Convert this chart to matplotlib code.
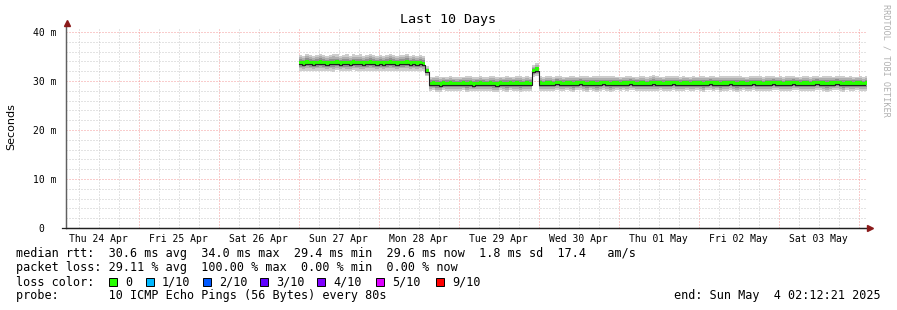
import numpy as np
import matplotlib
matplotlib.use("Agg")
import matplotlib.pyplot as plt
from matplotlib.patches import Rectangle
from matplotlib.lines import Line2D

# hours counted from Sun 27 Apr 00:00, one sample per hour
median_ms = [
    # Sun 27
    33.7, 33.6, 33.8, 33.7, 33.6, 33.7, 33.8, 33.7, 33.6, 33.7, 33.7, 33.8,
    33.6, 33.7, 33.7, 33.6, 33.8, 33.7, 33.7, 33.6, 33.7, 33.8, 33.7, 33.6,
    # Mon 28
    33.7, 33.6, 33.7, 33.8, 33.7, 33.6, 33.7, 33.7, 33.8, 33.6, 33.7, 33.6,
    33.7, 33.5, 32.0, 29.4, 29.5, 29.4, 29.3, 29.5, 29.4, 29.5, 29.4, 29.4,
    # Tue 29
    29.4, 29.5, 29.4, 29.5, 29.3, 29.4, 29.5, 29.4, 29.4, 29.5, 29.4, 29.3,
    29.5, 29.4, 29.4, 29.5, 29.4, 29.5, 29.4, 29.4, 29.5, 29.4, 32.0, 32.3,
    # Wed 30
    29.5, 29.4, 29.5, 29.5, 29.4, 29.6, 29.5, 29.4, 29.5, 29.5, 29.4, 29.5,
    29.6, 29.5, 29.4, 29.5, 29.5, 29.4, 29.5, 29.6, 29.5, 29.4, 29.5, 29.5,
    # Thu 01
    29.4, 29.5, 29.5, 29.6, 29.5, 29.4, 29.5, 29.5, 29.4, 29.5, 29.6, 29.5,
    29.5, 29.4, 29.5, 29.5, 29.6, 29.5, 29.4, 29.5, 29.5, 29.4, 29.5, 29.5,
    # Fri 02
    29.5, 29.4, 29.5, 29.6, 29.5, 29.5, 29.4, 29.5, 29.5, 29.6, 29.5, 29.4,
    29.5, 29.5, 29.4, 29.5, 29.6, 29.5, 29.5, 29.4, 29.5, 29.5, 29.6, 29.5,
    # Sat 03
    29.5, 29.4, 29.5, 29.5, 29.6, 29.5, 29.4, 29.5, 29.5, 29.4, 29.5, 29.6,
    29.5, 29.5, 29.4, 29.5, 29.5, 29.6, 29.5, 29.4, 29.5, 29.5, 29.4, 29.5,
    # Sun 04
    29.5, 29.4, 29.5,
]
# half width of the smoke (spread of the 10 pings) per hour
spread_ms = [
    1.6, 1.5, 1.7, 1.6, 1.5, 1.6, 1.7, 1.6, 1.5, 1.6, 1.8, 1.6,
    1.5, 1.6, 1.7, 1.5, 1.6, 1.6, 1.7, 1.5, 1.6, 1.7, 1.6, 1.5,
    1.6, 1.5, 1.6, 1.7, 1.6, 1.5, 1.6, 1.6, 1.7, 1.5, 1.6, 1.5,
    1.6, 1.5, 1.0, 1.5, 1.4, 1.6, 1.5, 1.4, 1.5, 1.6, 1.5, 1.4,
    1.5, 1.4, 1.6, 1.5, 1.4, 1.5, 1.6, 1.5, 1.4, 1.5, 1.7, 1.5,
    1.4, 1.5, 1.6, 1.4, 1.5, 1.5, 1.6, 1.4, 1.5, 1.5, 1.2, 1.3,
    1.5, 1.4, 1.6, 1.5, 1.4, 1.5, 1.6, 1.5, 1.4, 1.5, 1.6, 1.4,
    1.5, 1.5, 1.6, 1.4, 1.5, 1.7, 1.5, 1.4, 1.5, 1.6, 1.5, 1.4,
    1.5, 1.4, 1.6, 1.5, 1.4, 1.5, 1.5, 1.6, 1.4, 1.5, 1.6, 1.5,
    1.4, 1.5, 1.6, 1.5, 1.4, 1.5, 1.5, 1.6, 1.4, 1.5, 1.5, 1.4,
    1.5, 1.6, 1.4, 1.5, 1.5, 1.4, 1.6, 1.5, 1.5, 1.4, 1.5, 1.6,
    1.5, 1.4, 1.5, 1.6, 1.4, 1.5, 1.5, 1.4, 1.6, 1.5, 1.5, 1.4,
    1.5, 1.4, 1.5, 1.6, 1.5, 1.4, 1.5, 1.5, 1.6, 1.4, 1.5, 1.5,
    1.4, 1.5, 1.6, 1.5, 1.4, 1.5, 1.5, 1.6, 1.4, 1.5, 1.5, 1.4,
    1.5, 1.4, 1.5,
]
day_labels = ["Thu 24 Apr", "Fri 25 Apr", "Sat 26 Apr", "Sun 27 Apr", "Mon 28 Apr",
              "Tue 29 Apr", "Wed 30 Apr", "Thu 01 May", "Fri 02 May", "Sat 03 May"]
y_ticks = [0, 10, 20, 30, 40]
y_labels = ["0  ", "10 m", "20 m", "30 m", "40 m"]

legend_lines = [
    "median rtt:  30.6 ms avg  34.0 ms max  29.4 ms min  29.6 ms now  1.8 ms sd  17.4   am/s",
    "packet loss: 29.11 % avg  100.00 % max  0.00 % min  0.00 % now",
    "loss color:",
    "probe:       10 ICMP Echo Pings (56 Bytes) every 80s",
]
loss_names = ["0", "1/10", "2/10", "3/10", "4/10", "5/10", "9/10"]
loss_colors = ["#26ff00", "#00b8ff", "#0059ff", "#5e00ff", "#7e00ff", "#dd00ff", "#ff0000"]
end_text = "end: Sun May  4 02:12:21 2025"

W, H = 897, 310
def fx(x): return x / W
def fy(y): return 1 - y / H

mono = "DejaVu Sans Mono"
fig = plt.figure(figsize=(W / 100, H / 100), dpi=100)
fig.patch.set_facecolor("white")
ax = fig.add_axes([fx(66), fy(228), 800 / W, 201 / H])

x0, x1 = -69.794, 170.206
ax.set_xlim(x0, x1)
ax.set_ylim(0, 41)

# grid
dot = (0, (1, 2))
minor_c, major_c = "#c8c8c8", "#f49a9a"
for h in range(-66, 171, 6):
    c = major_c if h % 24 == 0 else minor_c
    ax.axvline(h, color=c, lw=0.72, ls=dot, zorder=1)
for v in range(2, 41, 2):
    c = major_c if v % 10 == 0 else minor_c
    ax.axhline(v, color=c, lw=0.72, ls=dot, zorder=1)

t = np.arange(len(median_ms) + 1)
med = np.array(median_ms + [median_ms[-1]])
spr = np.array(spread_ms + [spread_ms[-1]])

grays = ["#cdcdcd", "#b0b0b0", "#909090", "#6c6c6c"]
for frac, g in zip([1.0, 0.72, 0.48, 0.25], grays):
    ax.fill_between(t, med - spr * frac, med + spr * frac, step="post",
                    color=g, lw=0, zorder=2)

ax.fill_between(t, med - 0.25, med + 0.45, step="post", color=loss_colors[0], lw=0, zorder=3)
ax.step(t, med - 0.25, where="post", color="#202020", lw=0.8, zorder=4)

# axes
for s in ["top", "right"]:
    ax.spines[s].set_visible(False)
ax.spines["left"].set_color("#606060")
ax.spines["bottom"].set_color("#202020")
ax.spines["left"].set_linewidth(0.9)
ax.spines["bottom"].set_linewidth(0.9)
fig.add_artist(Line2D([fx(66), fx(66)], [fy(228), fy(24)], color="#606060", lw=0.9))
fig.add_artist(Line2D([fx(62), fx(868)], [fy(228), fy(228)], color="#202020", lw=0.9))
fig.add_artist(Line2D([fx(67)], [fy(23)], marker="^", ms=4, color="#8b1a1a", lw=0))
fig.add_artist(Line2D([fx(870)], [fy(228)], marker=">", ms=4, color="#8b1a1a", lw=0))

ax.set_xticks([-60 + 24 * i for i in range(len(day_labels))])
ax.set_xticklabels(day_labels, fontsize=7, family=mono)
ax.set_yticks(y_ticks)
ax.set_yticklabels(y_labels, fontsize=7, family=mono)
ax.tick_params(axis="both", length=0, colors="#000000")
ax.tick_params(axis="x", pad=4)
ax.tick_params(axis="y", pad=7)

fig.text(fx(448), fy(19), "Last 10 Days", ha="center", va="center", fontsize=9.6, family=mono)
fig.text(fx(11), fy(127), "Seconds", ha="center", va="center", rotation=90, fontsize=8)
fig.text(fx(886), fy(4), "RRDTOOL / TOBI OETIKER", ha="center", va="top", rotation=-90,
         fontsize=6.1, family=mono, color="#b0b0b0")

for i, line in enumerate(legend_lines):
    fig.text(fx(16), fy(254 + 14 * i), line, ha="left", va="center", fontsize=8.5, family=mono)

box_x = [109, 146, 203, 260, 317, 376, 436]
for bx, name, col in zip(box_x, loss_names, loss_colors):
    fig.add_artist(Rectangle((fx(bx), fy(286)), 8 / W, 8 / H, transform=fig.transFigure,
                             facecolor=col, edgecolor="black", lw=0.7))
    fig.text(fx(bx + 16), fy(282), name, ha="left", va="center", fontsize=8.5, family=mono)

fig.text(fx(881), fy(296), end_text, ha="right", va="center", fontsize=8.5, family=mono)

fig.savefig("out.png", dpi=100, facecolor="white")
